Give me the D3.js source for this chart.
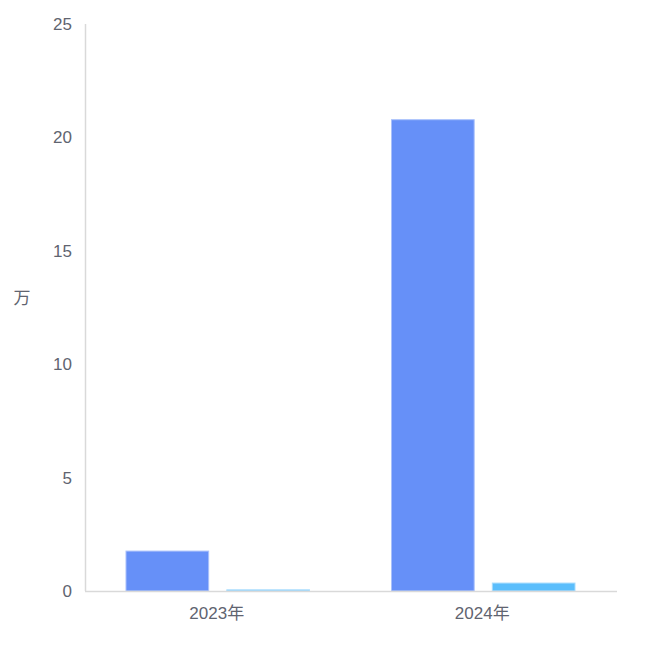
<!DOCTYPE html>
<html>
<head>
<meta charset="utf-8">
<script src="https://cdn.jsdelivr.net/npm/d3@7"></script>
<style>
  body { margin: 0; background: #fff; }
  text { font-family: "Liberation Sans", "Noto Sans CJK SC", sans-serif; }
</style>
</head>
<body>
<script>
const years = ["2023年", "2024年"];
const seriesA = [1.76, 20.78];
const seriesB = [0.05, 0.35];
const yTicks = [0, 5, 10, 15, 20, 25];

const svg = d3.select("body").append("svg")
  .attr("width", 650)
  .attr("height", 650);

const x0 = d3.scaleBand().domain(years).range([86, 617]);
const x1 = d3.scaleBand().domain([0, 1]).range([40, x0.bandwidth() - 42]).paddingInner(0.18);
const y = d3.scaleLinear().domain([0, 25]).range([591, 24]);

// y axis line
svg.append("line")
  .attr("x1", 85.5).attr("x2", 85.5)
  .attr("y1", y(25)).attr("y2", y(0))
  .attr("stroke", "#d9d9d9").attr("stroke-width", 1.5);

// y tick labels
svg.selectAll(".ytick").data(yTicks).enter().append("text")
  .attr("x", 72)
  .attr("y", d => y(d))
  .attr("dy", "0.35em")
  .attr("text-anchor", "end")
  .attr("font-size", 17)
  .attr("fill", "#5f6470")
  .text(d => d);

// unit label
svg.append("text")
  .attr("x", 22).attr("y", 298)
  .attr("dy", "0.35em")
  .attr("text-anchor", "middle")
  .attr("font-size", 17)
  .attr("fill", "#5f6470")
  .text("万");

const groups = svg.selectAll(".grp").data(years).enter().append("g")
  .attr("transform", d => `translate(${x0(d)},0)`);

groups.append("rect")
  .attr("x", x1(0))
  .attr("width", x1.bandwidth())
  .attr("y", (d, i) => y(seriesA[i]))
  .attr("height", (d, i) => y(0) - y(seriesA[i]))
  .attr("fill", "#6690f8")
  .attr("stroke", "#a9c0fb").attr("stroke-width", 1);

groups.append("rect")
  .attr("x", x1(1))
  .attr("width", x1.bandwidth())
  .attr("y", (d, i) => y(seriesB[i]))
  .attr("height", (d, i) => Math.max(1, y(0) - y(seriesB[i])))
  .attr("fill", "#5bbefc")
  .attr("stroke", "#a6dcfd").attr("stroke-width", 1);

// baseline
svg.append("line")
  .attr("x1", 85).attr("x2", 617)
  .attr("y1", 591.5).attr("y2", 591.5)
  .attr("stroke", "#d9d9d9").attr("stroke-width", 1.5);

// x labels
svg.selectAll(".xlab").data(years).enter().append("text")
  .attr("x", d => x0(d) + x0.bandwidth() / 2 - 2)
  .attr("y", 613)
  .attr("dy", "0.35em")
  .attr("text-anchor", "middle")
  .attr("font-size", 17)
  .attr("fill", "#5f6470")
  .text(d => d);
</script>
</body>
</html>
